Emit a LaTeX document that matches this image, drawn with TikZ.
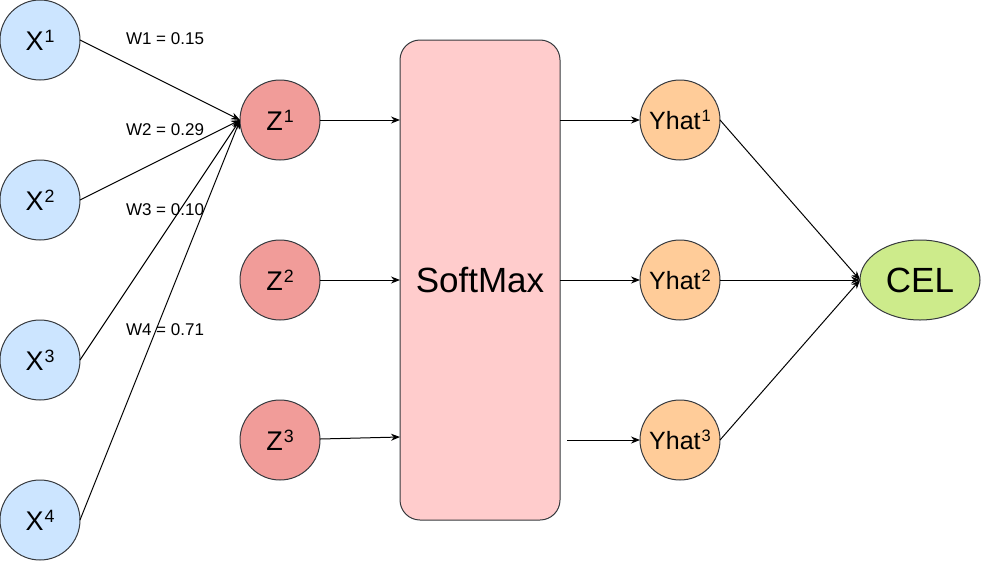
\documentclass[tikz,border=0pt]{standalone}
\usepackage{fontspec}
\setmainfont{Liberation Sans}
\usetikzlibrary{arrows.meta, positioning, shapes.geometric}
\definecolor{edgegray}{HTML}{36393D}
\definecolor{inblue}{HTML}{CCE5FF}
\definecolor{zred}{HTML}{F19C99}
\definecolor{boxpink}{HTML}{FFCCCC}
\definecolor{yorange}{HTML}{FFCC99}
\definecolor{celgreen}{HTML}{CDEB8B}
\newcommand{\power}[1]{\kern1pt\raisebox{0.3em}{\fontsize{0.66em}{0.66em}\selectfont #1}}
\tikzset{
    neuron/.style={circle, draw=edgegray, line width=1pt, minimum size=80pt, inner sep=0pt, outer sep=0pt, font=\fontsize{27}{30}\selectfont},
    input/.style={neuron, fill=inblue},
    hidden/.style={neuron, fill=zred},
    output/.style={neuron, fill=yorange, font=\fontsize{25}{28}\selectfont},
    weight/.style={font=\fontsize{17}{20}\selectfont, inner sep=0pt},
    arrow/.style={line width=1pt, -{Stealth[length=9pt, width=7pt]}}
}

\begin{document}
\begin{tikzpicture}[x=1pt, y=-1pt]
    \useasboundingbox (0,0) rectangle (981,562);

    % inputs
    \node (x1) [input] at (40,40) {X\power{1}};
    \node (x2) [input, below=80pt of x1] {X\power{2}};
    \node (x3) [input, below=80pt of x2] {X\power{3}};
    \node (x4) [input, below=80pt of x3] {X\power{4}};

    % weighted sums
    \node (z1) [hidden] at (280,120) {Z\power{1}};
    \node (z2) [hidden, below=80pt of z1] {Z\power{2}};
    \node (z3) [hidden, below=80pt of z2] {Z\power{3}};

    \node (soft) [rectangle, rounded corners=20pt, draw=edgegray, line width=1pt, fill=boxpink, minimum width=160pt, minimum height=480pt, outer sep=0pt, font=\fontsize{35}{40}\selectfont, right=80pt of z2] {SoftMax};

    % outputs
    \node (yhat2) [output, right=80pt of soft] {Yhat\power{2}};
    \node (yhat1) [output, above=80pt of yhat2] {Yhat\power{1}};
    \node (yhat3) [output, below=80pt of yhat2] {Yhat\power{3}};

    \node (cel) [ellipse, draw=edgegray, line width=1pt, fill=celgreen, minimum width=120pt, minimum height=80pt, inner sep=0pt, outer sep=0pt, font=\fontsize{35}{40}\selectfont, right=140pt of yhat2] {CEL};

    \node (w1) [weight] at (165,39) {W1 = 0.15};
    \node (w2) [weight] at (165,130) {W2 = 0.29};
    \node (w3) [weight] at (165,210) {W3 = 0.10};
    \node (w4) [weight] at (165,330) {W4 = 0.71};

    \coordinate (out3) at ([xshift=7pt]soft.east |- yhat3);

    \draw [arrow] (x1.east) -- (z1.west);
    \draw [arrow] (x2.east) -- (z1.west);
    \draw [arrow] (x3.east) -- (z1.west);
    \draw [arrow] (x4.east) -- (z1.west);

    \draw [arrow] (z1) -- (z1 -| soft.west);
    \draw [arrow] (z2) -- (soft);
    \draw [arrow] (z3) -- ([yshift=3pt]z3 -| soft.west);

    \draw [arrow] (soft.east |- yhat1) -- (yhat1);
    \draw [arrow] (soft) -- (yhat2);
    \draw [arrow] (out3) -- (yhat3);

    \draw [arrow] (yhat1.east) -- (cel.west);
    \draw [arrow] (yhat2) -- (cel);
    \draw [arrow] (yhat3.east) -- (cel.west);
\end{tikzpicture}
\end{document}
